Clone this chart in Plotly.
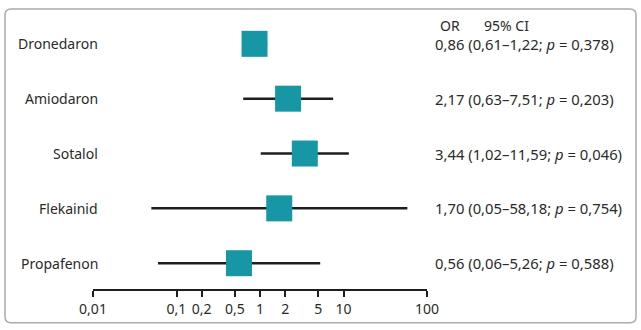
import math
import plotly.graph_objects as go

drugs = ["Dronedaron", "Amiodaron", "Sotalol", "Flekainid", "Propafenon"]
odds_ratio = [0.86, 2.17, 3.44, 1.70, 0.56]
ci_low = [0.61, 0.63, 1.02, 0.05, 0.06]
ci_high = [1.22, 7.51, 11.59, 58.18, 5.26]
p_values = ["0,378", "0,203", "0,046", "0,754", "0,588"]
tick_vals = [0.01, 0.1, 0.2, 0.5, 1, 2, 5, 10, 100]
tick_text = ["0,01", "0,1", "0,2", "0,5", "1", "2", "5", "10", "100"]
ref_value = 1

W, H = 641, 330
L, R, T, B = 93, 427, 21, 291  # plot area in pixels
n = len(drugs)
ypos = [n - 1 - i for i in range(n)]

def fmt(v):
    return f"{v:.2f}".replace(".", ",")

def px_x(px):
    return (px - L) / (R - L)

def px_y(py):
    return (B - py) / (B - T)

TXT = "#2a2a2a"
FONT = "Noto Sans"

fig = go.Figure()

# CI lines
lx, ly = [], []
for lo, hi, y in zip(ci_low, ci_high, ypos):
    lx += [lo, hi, None]
    ly += [y, y, None]
fig.add_trace(go.Scatter(x=lx, y=ly, mode="lines",
                         line=dict(color="#1e1e1e", width=2.5),
                         hoverinfo="skip", showlegend=False))
# OR squares
fig.add_trace(go.Scatter(x=odds_ratio, y=ypos, mode="markers",
                         marker=dict(symbol="square", size=26, color="#1796a5",
                                     line=dict(width=0)),
                         showlegend=False))

annotations = []
for d, y in zip(drugs, ypos):
    annotations.append(dict(x=px_x(100), y=y, xref="paper", yref="y", text=d,
                            showarrow=False, xanchor="right", yanchor="middle",
                            font=dict(family=FONT, size=14, color=TXT)))
for o, lo, hi, p, y in zip(odds_ratio, ci_low, ci_high, p_values, ypos):
    t = f"{fmt(o)} ({fmt(lo)}–{fmt(hi)}; <i>p</i> = {p})"
    annotations.append(dict(x=px_x(433), y=y, xref="paper", yref="y", text=t,
                            showarrow=False, xanchor="left", yanchor="middle",
                            font=dict(family=FONT, size=14.8, color=TXT)))
annotations.append(dict(x=px_x(438), y=px_y(26), xref="paper", yref="paper",
                        text="OR", showarrow=False, xanchor="left", yanchor="middle",
                        font=dict(family=FONT, size=14, color=TXT)))
annotations.append(dict(x=px_x(482), y=px_y(26), xref="paper", yref="paper",
                        text="95% CI", showarrow=False, xanchor="left", yanchor="middle",
                        font=dict(family=FONT, size=14, color=TXT)))

# border (rounded rectangle) in paper coords
x0, x1, y0, y1 = px_x(5), px_x(636), px_y(325), px_y(9)
rx = 6 / (R - L)
ry = 6 / (B - T)
path = (f"M {x0+rx},{y1} L {x1-rx},{y1} Q {x1},{y1} {x1},{y1-ry} "
        f"L {x1},{y0+ry} Q {x1},{y0} {x1-rx},{y0} L {x0+rx},{y0} "
        f"Q {x0},{y0} {x0},{y0+ry} L {x0},{y1-ry} Q {x0},{y1} {x0+rx},{y1} Z")
shapes = [
    dict(type="path", path=path, xref="paper", yref="paper",
         line=dict(color="#ababab", width=1.5), layer="below"),
    dict(type="line", xref="x", yref="paper", x0=math.log10(ref_value),
         x1=math.log10(ref_value), y0=0, y1=1,
         line=dict(color="#1e1e1e", width=1.5), layer="below"),
]

fig.update_layout(
    width=W, height=H,
    margin=dict(l=L, r=W - R, t=T, b=H - B),
    paper_bgcolor="white", plot_bgcolor="white",
    xaxis=dict(type="log", range=[-2, 2], tickvals=tick_vals, ticktext=tick_text,
               showgrid=False, zeroline=False, showline=True, linecolor="#1e1e1e",
               linewidth=1.5, ticks="outside", ticklen=6, tickwidth=1.5,
               tickcolor="#1e1e1e",
               tickfont=dict(family=FONT, size=14, color=TXT)),
    yaxis=dict(range=[-0.47, n - 1 + 0.416], showgrid=False, zeroline=False,
               showticklabels=False, showline=False, ticks=""),
    annotations=annotations, shapes=shapes,
)

fig.write_html("out.html")
